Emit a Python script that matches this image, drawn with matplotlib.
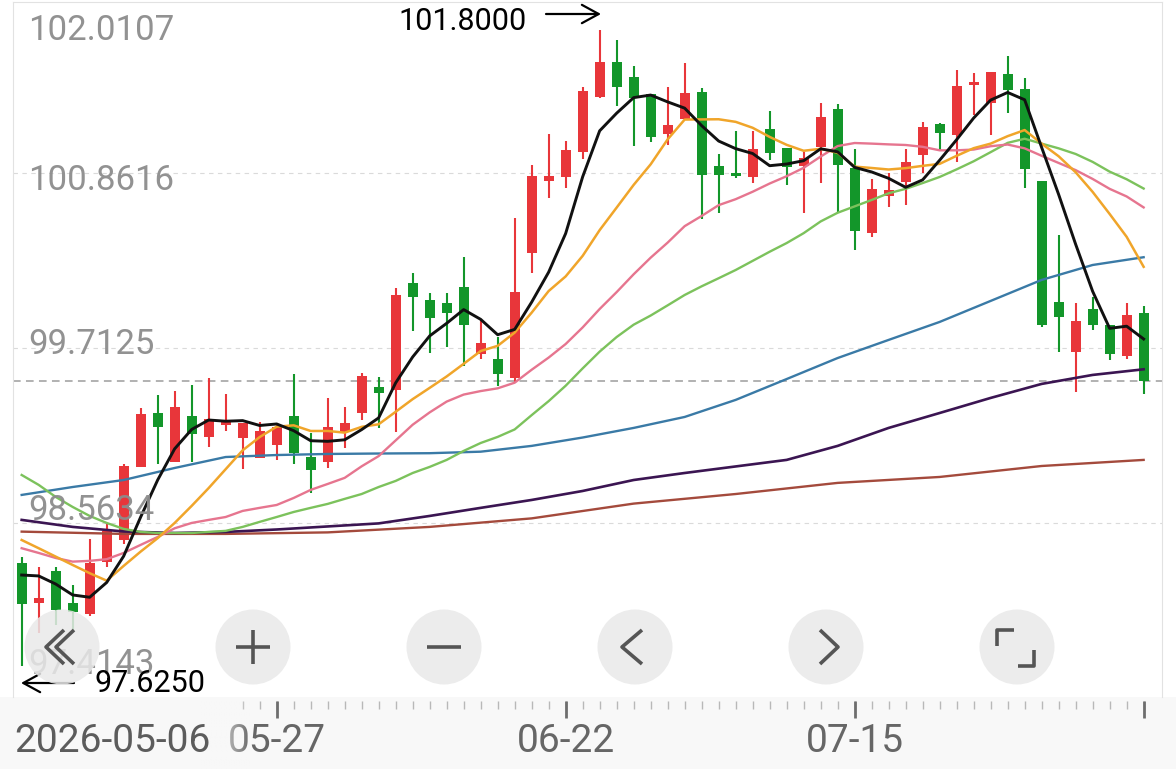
import numpy as np
import matplotlib.pyplot as plt
from matplotlib.patches import Circle

plt.rcParams['font.family'] = ['Roboto', 'DejaVu Sans']

# daily candles from 2026-05-06 (67 sessions)
opens = [98.303, 98.037, 98.251, 98.037, 97.967, 98.310, 98.452, 98.934, 99.284, 98.966,
         99.267, 99.127, 99.206, 99.120, 98.989, 99.076, 99.267, 98.999, 98.966, 99.163,
         99.288, 99.459, 99.437, 100.138, 100.028, 100.006, 100.112, 99.674, 99.639, 99.514,
         100.335, 100.812, 100.838, 101.002, 101.359, 101.589, 101.490, 101.381, 101.118, 101.215,
         101.396, 100.908, 100.860, 100.838, 101.149, 101.024, 100.908, 101.035, 101.280, 100.893,
         100.470, 100.711, 100.805, 100.980, 101.184, 101.112, 101.440, 101.320, 101.512, 101.412,
         100.812, 100.017, 99.689, 99.967, 99.864, 99.660, 99.941]
highs = [98.339, 98.277, 98.277, 98.155, 98.457, 98.562, 98.951, 99.317, 99.404, 99.431,
         99.470, 99.514, 99.409, 99.219, 99.229, 99.223, 99.542, 99.155, 99.383, 99.324,
         99.547, 99.525, 100.105, 100.207, 100.072, 100.076, 100.309, 99.897, 99.783, 100.565,
         100.915, 101.118, 101.074, 101.425, 101.800, 101.735, 101.565, 101.381, 101.429, 101.586,
         101.418, 100.987, 101.140, 101.140, 101.271, 101.024, 101.002, 101.324, 101.315, 101.018,
         100.821, 100.860, 101.018, 101.199, 101.192, 101.538, 101.521, 101.527, 101.630, 101.484,
         100.812, 100.455, 100.010, 100.050, 99.864, 100.010, 99.989]
lows = [97.625, 97.840, 97.894, 97.861, 97.953, 98.273, 98.426, 98.930, 98.951, 98.966,
        98.966, 99.065, 99.170, 98.917, 98.989, 98.978, 98.951, 98.759, 98.923, 99.054,
        99.240, 99.186, 99.163, 99.827, 99.678, 99.718, 99.595, 99.639, 99.464, 99.485,
        100.204, 100.696, 100.762, 100.952, 101.353, 101.302, 101.039, 101.068, 101.046, 101.215,
        100.558, 100.601, 100.827, 100.798, 100.947, 100.783, 100.598, 100.795, 100.608, 100.357,
        100.440, 100.641, 100.652, 100.860, 101.013, 100.936, 101.243, 101.112, 101.254, 100.762,
        99.853, 99.689, 99.426, 99.831, 99.634, 99.639, 99.411]
closes = [98.030, 98.073, 97.993, 97.982, 98.303, 98.513, 98.938, 99.280, 99.196, 99.328,
          99.148, 99.245, 99.240, 99.219, 99.170, 99.196, 99.026, 98.912, 99.196, 99.219,
          99.529, 99.416, 100.061, 100.046, 99.908, 99.945, 99.862, 99.744, 99.542, 100.083,
          100.842, 100.842, 101.013, 101.403, 101.593, 101.425, 101.353, 101.097, 101.177, 101.389,
          100.849, 100.849, 100.842, 101.018, 100.991, 100.903, 100.961, 101.232, 100.915, 100.483,
          100.755, 100.751, 100.936, 101.162, 101.123, 101.433, 101.462, 101.527, 101.407, 100.886,
          99.864, 99.919, 99.892, 99.864, 99.674, 99.930, 99.498]

# moving averages
ma5 = [98.222, 98.216, 98.163, 98.091, 98.076, 98.173, 98.346, 98.603, 98.846, 99.051,
       99.178, 99.240, 99.232, 99.236, 99.204, 99.214, 99.170, 99.104, 99.100, 99.110,
       99.177, 99.254, 99.484, 99.654, 99.792, 99.875, 99.965, 99.901, 99.800, 99.835,
       100.014, 100.211, 100.465, 100.837, 101.139, 101.255, 101.357, 101.374, 101.329, 101.288,
       101.173, 101.072, 101.022, 100.990, 100.910, 100.921, 100.943, 101.021, 101.001, 100.899,
       100.869, 100.827, 100.768, 100.817, 100.946, 101.081, 101.223, 101.341, 101.391, 101.343,
       101.030, 100.721, 100.394, 100.085, 99.842, 99.856, 99.772]
ma10 = [98.452, 98.398, 98.343, 98.288, 98.234, 98.185, 98.282, 98.376, 98.464, 98.564,
        98.676, 98.793, 98.917, 99.041, 99.128, 99.196, 99.205, 99.168, 99.168, 99.157,
        99.195, 99.212, 99.294, 99.377, 99.451, 99.526, 99.609, 99.693, 99.727, 99.814,
        99.945, 100.087, 100.183, 100.318, 100.487, 100.635, 100.784, 100.919, 101.083, 101.213,
        101.214, 101.215, 101.198, 101.159, 101.099, 101.047, 101.008, 101.021, 100.995, 100.904,
        100.895, 100.885, 100.894, 100.909, 100.922, 100.975, 101.025, 101.055, 101.104, 101.144,
        101.055, 100.972, 100.867, 100.738, 100.593, 100.443, 100.246]
ma20 = [98.398, 98.367, 98.334, 98.310, 98.315, 98.326, 98.367, 98.420, 98.472, 98.529,
        98.564, 98.584, 98.603, 98.643, 98.663, 98.682, 98.728, 98.781, 98.820, 98.860,
        98.936, 99.003, 99.106, 99.209, 99.290, 99.361, 99.407, 99.430, 99.448, 99.485,
        99.570, 99.650, 99.739, 99.848, 99.969, 100.080, 100.197, 100.306, 100.405, 100.513,
        100.580, 100.651, 100.690, 100.739, 100.793, 100.841, 100.896, 100.970, 101.039, 101.059,
        101.055, 101.050, 101.046, 101.034, 101.011, 101.011, 101.016, 101.038, 101.049, 101.024,
        100.975, 100.928, 100.881, 100.823, 100.758, 100.708, 100.636]
ma30 = [98.879, 98.814, 98.735, 98.669, 98.610, 98.564, 98.525, 98.505, 98.498, 98.498,
        98.498, 98.505, 98.512, 98.538, 98.571, 98.603, 98.636, 98.663, 98.689, 98.722,
        98.754, 98.800, 98.840, 98.892, 98.932, 98.978, 99.037, 99.089, 99.129, 99.178,
        99.272, 99.364, 99.465, 99.579, 99.689, 99.785, 99.866, 99.926, 99.993, 100.061,
        100.118, 100.171, 100.225, 100.285, 100.345, 100.402, 100.467, 100.544, 100.601, 100.643,
        100.685, 100.729, 100.758, 100.796, 100.836, 100.886, 100.939, 100.999, 101.060, 101.087,
        101.055, 101.024, 100.987, 100.935, 100.871, 100.821, 100.760]
# slow averages, sampled every 3rd / 6th session
ma60 = [98.748, 98.800, 98.846, 98.925, 98.997, 99.010, 99.017, 99.020, 99.022, 99.032, 99.070, 99.125,
        99.188, 99.260, 99.372, 99.509, 99.647, 99.766, 99.884, 100.022, 100.160, 100.258, 100.309]
ma120 = [98.584, 98.538, 98.508, 98.498, 98.505, 98.521, 98.541, 98.561, 98.610, 98.663, 98.715, 98.774,
         98.846, 98.892, 98.935, 98.978, 99.070, 99.188, 99.286, 99.385, 99.477, 99.536, 99.573]
ma250 = [98.507, 98.492, 98.492, 98.502, 98.538, 98.594, 98.691, 98.754, 98.827, 98.866, 98.938, 98.978]

first_date = '2026-05-06'
date_ticks = [15, 32, 49, 66]
date_labels = ['05-27', '06-22', '07-15', '']
y_labels = ['102.0107', '100.8616', '99.7125', '98.5634', '97.4143']
grid_levels = [100.8616, 99.7125, 98.5634]
high_label = '101.8000'
low_label = '97.6250'

RED, GREEN = '#e8363a', '#13962a'
W, H = 1176, 769

fig = plt.figure(figsize=(W / 100, H / 100), dpi=100)
fig.patch.set_facecolor('white')
fig.add_artist(plt.Rectangle((0, 0), 1, 72 / H, transform=fig.transFigure,
                             facecolor='#f8f8f8', edgecolor='none', zorder=-5))

ax = fig.add_axes([13 / W, 72 / H, 1149 / W, 695 / H])
ax.set_xlim(-0.51, 67.08)
ax.set_ylim(97.421, 101.985)

o, h, l, c = map(np.array, (opens, highs, lows, closes))
x = np.arange(len(c))
cols = [RED if cc >= oo else GREEN for oo, cc in zip(o, c)]

for lev in grid_levels:
    ax.axhline(lev, color='#dadada', lw=0.8, ls=(0, (4, 4)), zorder=1)
ax.axhline(c[-1], color='#9d9d9d', lw=1.1, ls=(0, (5, 3.5)), zorder=1)

ax.vlines(x, l, h, colors=cols, lw=1.5, zorder=2)
ax.bar(x, np.maximum(np.abs(c - o), 0.008), bottom=np.minimum(o, c), width=0.6,
       color=cols, zorder=3)

ax.plot(np.arange(0, len(c), 6), ma250, color='#a44a3c', lw=1.7, zorder=4)
ax.plot(np.arange(0, len(c), 3), ma120, color='#3b1552', lw=1.9, zorder=4)
ax.plot(np.arange(0, len(c), 3), ma60, color='#3a7aa6', lw=1.7, zorder=4)
ax.plot(x, ma30, color='#7cc25c', lw=1.7, zorder=5)
ax.plot(x, ma20, color='#e6758f', lw=1.7, zorder=5)
ax.plot(x, ma10, color='#f0a52a', lw=1.8, zorder=5)
ax.plot(x, ma5, color='#111111', lw=2.1, zorder=6)

ax.set_xticks([])
ax.set_yticks([])
for side in ['left', 'top', 'right']:
    ax.spines[side].set_color('#e2e2e2')
ax.spines['bottom'].set_visible(False)

# date ruler under the plot
ax2 = fig.add_axes([13 / W, 0, 1149 / W, 72 / H], sharex=ax)
ax2.set_facecolor('none')
ax2.set_ylim(72, 0)
ax2.axis('off')
ax2.vlines(x[13:], 4, 12, color='#b8b8b8', lw=1.0)
ax2.vlines(date_ticks, 4, 21, color='#6e6e6e', lw=2.0)
for t, lab in zip(date_ticks, date_labels):
    ax2.text(t, 45, lab, ha='center', va='center', fontsize=28, color='#666666')

# overlay in pixel coordinates: labels, markers, buttons
ov = fig.add_axes([0, 0, 1, 1])
ov.set_xlim(0, W)
ov.set_ylim(H, 0)
ov.axis('off')
ov.patch.set_alpha(0)

grad = np.ones((1, 60, 4))
grad[..., :3] = 248 / 255
grad[0, :, 3] = np.linspace(1, 0, 60) ** 0.8
ov.imshow(grad, extent=(200, 250, 769, 700), aspect='auto', zorder=1)
ov.add_patch(plt.Rectangle((0, 700), 200, 69, facecolor='#f8f8f8', edgecolor='none', zorder=1))
ov.text(14, 742, first_date, ha='left', va='center', fontsize=28, color='#5c5c5c', zorder=2)

for lab, yy in zip(y_labels, [31, 180, 345, 510, 664]):
    ov.text(28, yy, lab, ha='left', va='center', fontsize=25, color='#8c8c8c', alpha=0.95, zorder=2)

ov.text(398, 21, high_label, ha='left', va='center', fontsize=22, color='black', zorder=3)
ov.annotate('', xy=(601, 14), xytext=(546, 14),
            arrowprops=dict(arrowstyle='->,head_length=0.55,head_width=0.3', lw=1.6, color='black',
                            mutation_scale=22, shrinkA=0, shrinkB=0))
ov.text(95, 683, low_label, ha='left', va='center', fontsize=22, color='black', zorder=3)
ov.annotate('', xy=(21, 683), xytext=(74, 683),
            arrowprops=dict(arrowstyle='->,head_length=0.55,head_width=0.3', lw=1.6, color='black',
                            mutation_scale=22, shrinkA=0, shrinkB=0))

icon = dict(color='#555555', lw=2.6, solid_capstyle='butt', zorder=6)
cy = 647
for k in range(6):
    cx = 62 + 191 * k
    ov.add_patch(Circle((cx, cy), 37.5, facecolor='#e9e9e9', edgecolor='none', alpha=0.85, zorder=5))
    if k == 0:
        for dx in (-16, -6):
            ov.plot([cx + dx + 18, cx + dx, cx + dx + 18], [cy - 17, cy, cy + 17], **icon)
    elif k == 1:
        ov.plot([cx - 17, cx + 17], [cy, cy], **icon)
        ov.plot([cx, cx], [cy - 17, cy + 17], **icon)
    elif k == 2:
        ov.plot([cx - 17, cx + 17], [cy, cy], **icon)
    elif k == 3:
        ov.plot([cx + 7, cx - 13, cx + 7], [cy - 17, cy, cy + 17], **icon)
    elif k == 4:
        ov.plot([cx - 6, cx + 12, cx - 6], [cy - 17, cy, cy + 17], **icon)
    else:
        ov.plot([cx - 20, cx - 20, cx - 3], [cy - 1, cy - 17, cy - 17], **icon)
        ov.plot([cx + 1, cx + 17, cx + 17], [cy + 19, cy + 19, cy + 3], **icon)

fig.savefig('out.png', dpi=100)
